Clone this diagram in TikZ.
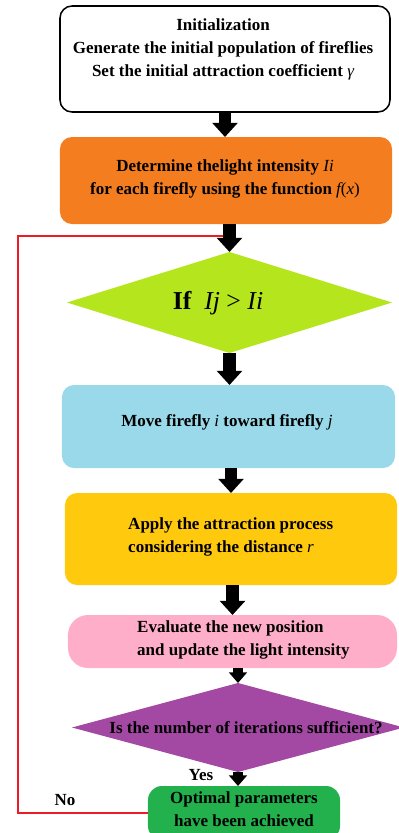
\documentclass[tikz,border=0pt]{standalone}
\usepackage{fontspec}
\setmainfont{Liberation Serif}
\usetikzlibrary{shapes.geometric,arrows.meta}
\definecolor{cOrange}{HTML}{F47D20}
\definecolor{cLime}{HTML}{B5E61D}
\definecolor{cBlue}{HTML}{99D9EA}
\definecolor{cYellow}{HTML}{FFC90E}
\definecolor{cPink}{HTML}{FFAEC9}
\definecolor{cPurple}{HTML}{A349A4}
\definecolor{cGreen}{HTML}{22B14C}
\definecolor{cRed}{HTML}{ED1C24}
\newcommand\mv[1]{{\mdseries\itshape #1}}
\newcommand\mup[1]{{\mdseries #1}}
\begin{document}
\begin{tikzpicture}[x=0.03cm,y=-0.03cm,
  box/.style={rectangle, rounded corners=0.36cm, inner sep=0, outer sep=0, draw=none},
  dia/.style={diamond, inner sep=0, outer sep=0, draw=none},
  txt/.style={font=\fontsize{14.5}{19.6}\selectfont\bfseries, align=center, inner sep=0},
  blk/.style={line width=11pt, -{Triangle[width=21pt,length=12pt]}},
  blks/.style={line width=8pt, -{Triangle[width=15pt,length=9pt]}},
  redl/.style={draw=cRed, line width=1.8pt}]
\useasboundingbox (0,0) rectangle (399,833);
% shapes
\node[box, draw=black, line width=1.3pt, fill=white, minimum width=9.9cm, minimum height=3.18cm] (B1) at (225,59) {};
\node[box, fill=cOrange, minimum width=9.96cm, minimum height=2.61cm] (B2) at (226,180.5) {};
\node[dia, fill=cLime, minimum width=9.75cm, minimum height=3.03cm] (D1) at (229.5,302.5) {};
\node[box, fill=cBlue, minimum width=9.99cm, minimum height=2.49cm] (B4) at (228.5,426.5) {};
\node[box, fill=cYellow, minimum width=9.96cm, minimum height=2.76cm] (B5) at (231,539) {};
\node[box, rounded corners=0.6cm, fill=cPink, minimum width=9.87cm, minimum height=1.59cm] (B6) at (232.5,641.5) {};
\node[dia, fill=cPurple, minimum width=9.96cm, minimum height=2.67cm] (D2) at (238,727.5) {};
\node[box, rounded corners=0.42cm, fill=cGreen, minimum width=5.76cm, minimum height=1.62cm] (B7) at (244,813) {};
% arrows
\draw[blk] (B1.south) -- (B1.south |- B2.north);
\draw[blk] (B2.south -| D1.north) -- (D1.north);
\draw[blk] (D1.south) -- (D1.south |- B4.north);
\draw[blk] (B5.north |- B4.south) -- (B5.north);
\draw[blk] (B6.north |- B5.south) -- (B6.north);
\draw[blks] (B6.south -| D2.north) -- (D2.north);
\draw[blks] (D2.south) -- (D2.south |- B7.north);
% loop back
\coordinate (Lj) at (223,236);
\coordinate (Lx) at (18,236);
\draw[redl] (B7.west) -| (Lx) -- (Lj);
% texts
\node[txt] (T1) at (223,49) {Initialization\\Generate the initial population of fireflies\\Set the initial attraction coefficient \mv{γ}};
\node[txt] (T2) at (225,179) {Determine thelight intensity \mv{Ii}\\for each firefly using the function \mv{f}\mup{(}\mv{x}\mup{)}};
\node[txt, font=\fontsize{22}{26}\selectfont\bfseries] (T3) at (218,303) {If\enspace\mv{Ij}\mup{ > }\mv{Ii}};
\node[txt] (T4) at (227,422) {Move firefly \mv{i} toward firefly \mv{j}};
\node[txt, align=left, anchor=west] (T5) at (128,536.5) {Apply the attraction process\\considering the distance \mv{r}};
\node[txt, align=left, anchor=west] (T6) at (137,640) {Evaluate the new position\\and update the light intensity};
\node[txt] (T7) at (246,728) {Is the number of iterations sufficient?};
\node[txt] (T8) at (244,809) {Optimal parameters\\have been achieved};
\node[txt] (Yes) at (201,775) {Yes};
\node[txt] (No) at (65,800) {No};
\end{tikzpicture}
\end{document}
